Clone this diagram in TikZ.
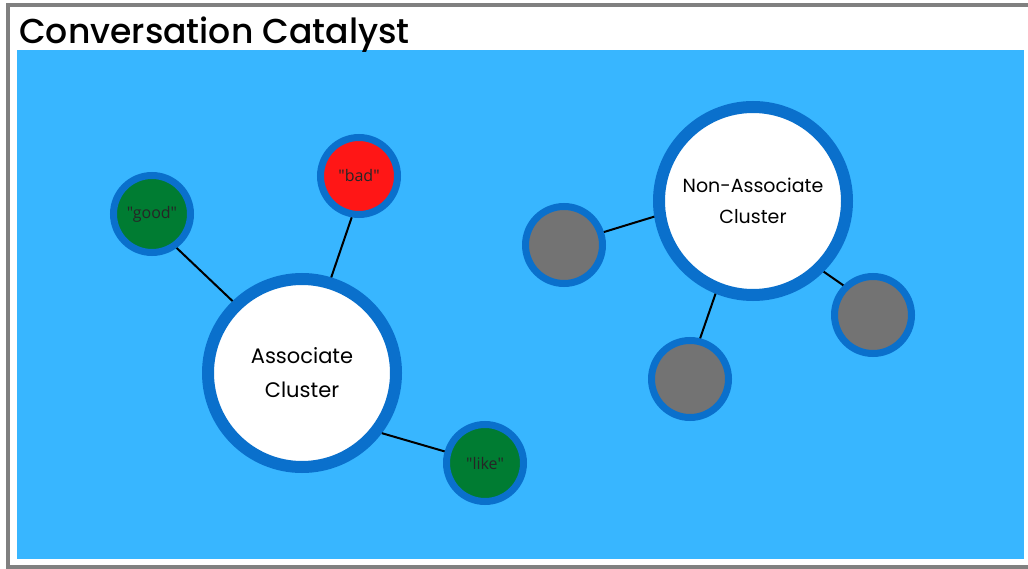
\documentclass[tikz,border=0pt]{standalone}
\usepackage{fontspec}
\setmainfont{Open Sans}[Ligatures=TeXOff]
\newfontfamily\titlefont{Poppins Medium}
\newfontfamily\clusterfont{Poppins}
\definecolor{skyblue}{HTML}{38B6FF}
\definecolor{ringblue}{HTML}{0A70CC}
\definecolor{wordgreen}{HTML}{007C32}
\definecolor{wordred}{HTML}{FF1616}
\definecolor{blankgray}{HTML}{737373}
\definecolor{framegray}{HTML}{808080}
\begin{document}
\begin{tikzpicture}[x=1pt,y=-1pt,
    cluster/.style={circle,draw=ringblue,line width=12pt,fill=white,minimum size=188pt,
        inner sep=0pt,align=center,text=black},
    word/.style={circle,draw=ringblue,line width=7pt,minimum size=77pt,inner sep=0pt,
        text=black!85,font=\fontsize{16}{18}\selectfont},
    link/.style={line width=2pt,black}]
    \useasboundingbox (0,0) rectangle (1028,569);
    %% frame
    \fill[white] (0,0) rectangle (1028,569);
    \draw[framegray,line width=4.5pt] (1030,5) -| (8,567) -- (1030,567);
    \fill[skyblue] (17,50) rectangle (1024,559);
    \node[anchor=base west,inner sep=0pt,font=\titlefont\fontsize{34.6}{40}\selectfont] (title) at (19,44) {Conversation Catalyst};
    \begin{scope}
        %% associate cluster
        \node[cluster,font=\clusterfont\fontsize{21}{34}\selectfont] (assoc) at (302,373) {Associate\\Cluster};
        \node[word,fill=wordgreen] (good) at (152,214) {"good"};
        \node[word,fill=wordred] (bad) at (359,176) {"bad"};
        \node[word,fill=wordgreen] (like) at (485,463) {"like"};
        \draw[link] (good.-54) -- (assoc.134);
        \draw[link] (bad.-100) -- (assoc.73);
        \draw[link] (assoc.-37) -- (like.164);
    \end{scope}
    \begin{scope}
        %% non-associate cluster
        \node[cluster,font=\clusterfont\fontsize{19}{31}\selectfont] (nonassoc) at (753,201) {Non-Associate\\Cluster};
        \node[word,fill=blankgray] (blankL) at (564,245) {};
        \node[word,fill=blankgray] (blankB) at (690,379) {};
        \node[word,fill=blankgray] (blankR) at (873,315) {};
        \draw[link] (nonassoc.-171) -- (blankL.18);
        \draw[link] (nonassoc.-112) -- (blankB.76);
        \draw[link] (nonassoc.-45) -- (blankR.135);
    \end{scope}
\end{tikzpicture}
\end{document}
